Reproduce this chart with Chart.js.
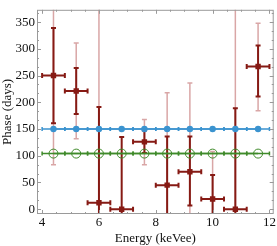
<!DOCTYPE html>
<html>
<head>
<meta charset="utf-8">
<script src="https://cdn.jsdelivr.net/npm/chart.js@4.4.1/dist/chart.umd.min.js"></script>
<style>
  html, body { margin: 0; padding: 0; background: #fff; }
  #wrap { width: 277px; height: 246px; }
</style>
</head>
<body>
<div id="wrap"><canvas id="phaseChart" width="277" height="246"></canvas></div>
<script>
// bin centres (keVee), half-width of each bin
const energy = [4.4, 5.2, 6.0, 6.8, 7.6, 8.4, 9.2, 10.0, 10.8, 11.6];
const binHalf = 0.4;

// measured phase and its two error bands (null = no bar)
const phase      = [250, 221, 12, 0, 126, 45, 70, 19, 0, 267];
const innerHi    = [339, 264, 191, 135, 147, 136, 136, 64, 189, 306];
const innerLo    = [161, 178, -50, -50, 105, -50, 7, -50, -50, 211];
const outerHi    = [420, 311, 420, null, 168, 218, 236, 108, 420, 348];
const outerLo    = [83, 132, -50, -50, 83, -50, -50, -50, -50, 184];

// model curves
const modelBlue  = [150, 150, 150, 150, 150, 150, 150, 150, 150, 150];
const modelGreen = [104, 104, 104, 104, 104, 104, 104, 104, 104, 104];

// axes
const xTicks = [4, 6, 8, 10, 12];
const yTicks = [0, 50, 100, 150, 200, 250, 300, 350];

const darkRed = "#861a14";
const lightRed = "#d9a6a6";
const blue = "#3b93cf";
const green = "#3f8a2a";

function pts(ys) {
  return energy.map(function (x, i) { return { x: x, y: ys[i] }; });
}

const errorBars = {
  id: "errorBars",
  beforeDatasetsDraw: function (chart) {
    const ctx = chart.ctx;
    const xs = chart.scales.x;
    const ys = chart.scales.y;
    const area = chart.chartArea;
    ctx.save();
    ctx.beginPath();
    ctx.rect(area.left, area.top, area.right - area.left, area.bottom - area.top);
    ctx.clip();

    function vbar(x, lo, hi, color, w) {
      const px = xs.getPixelForValue(x);
      const a = ys.getPixelForValue(lo);
      const b = ys.getPixelForValue(hi);
      ctx.strokeStyle = color;
      ctx.lineWidth = w;
      ctx.beginPath();
      ctx.moveTo(px, a);
      ctx.lineTo(px, b);
      ctx.moveTo(px - 2.5, a);
      ctx.lineTo(px + 2.5, a);
      ctx.moveTo(px - 2.5, b);
      ctx.lineTo(px + 2.5, b);
      ctx.stroke();
    }
    function hbar(x, y, color, w) {
      const a = xs.getPixelForValue(x - binHalf);
      const b = xs.getPixelForValue(x + binHalf);
      const py = ys.getPixelForValue(y);
      ctx.strokeStyle = color;
      ctx.lineWidth = w;
      ctx.beginPath();
      ctx.moveTo(a, py);
      ctx.lineTo(b, py);
      ctx.moveTo(a, py - 2.5);
      ctx.lineTo(a, py + 2.5);
      ctx.moveTo(b, py - 2.5);
      ctx.lineTo(b, py + 2.5);
      ctx.stroke();
    }

    energy.forEach(function (x, i) {
      if (outerHi[i] !== null) vbar(x, phase[i], outerHi[i], lightRed, 1.5);
      if (outerLo[i] !== null) vbar(x, outerLo[i], phase[i], lightRed, 1.5);
    });
    energy.forEach(function (x, i) {
      vbar(x, innerLo[i], innerHi[i], darkRed, 2);
      hbar(x, phase[i], darkRed, 2);
    });
    ctx.restore();
  },
  afterDatasetsDraw: function (chart) {
    const ctx = chart.ctx;
    const xs = chart.scales.x;
    const ys = chart.scales.y;
    ctx.save();
    energy.forEach(function (x, i) {
      [[modelGreen, green], [modelBlue, blue]].forEach(function (m) {
        const a = xs.getPixelForValue(x - binHalf);
        const b = xs.getPixelForValue(x + binHalf);
        const py = ys.getPixelForValue(m[0][i]);
        ctx.strokeStyle = m[1];
        ctx.lineWidth = 1.5;
        ctx.beginPath();
        ctx.moveTo(a, py);
        ctx.lineTo(b, py);
        ctx.moveTo(a, py - 2);
        ctx.lineTo(a, py + 2);
        ctx.moveTo(b, py - 2);
        ctx.lineTo(b, py + 2);
        ctx.stroke();
      });
    });
    ctx.restore();
  },
  afterDraw: function (chart) {
    // frame with inward ticks on all four sides
    const ctx = chart.ctx;
    const xs = chart.scales.x;
    const ys = chart.scales.y;
    const a = chart.chartArea;
    ctx.save();
    ctx.strokeStyle = "#9a9a9a";
    ctx.lineWidth = 1;
    ctx.strokeRect(a.left + 0.5, a.top + 0.5, a.right - a.left - 1, a.bottom - a.top - 1);
    ctx.beginPath();
    for (let v = 3.5; v <= 12.5; v += 0.5) {
      const px = Math.round(xs.getPixelForValue(v)) + 0.5;
      if (px < a.left || px > a.right) continue;
      const len = (v % 2 === 0) ? 4 : 2;
      ctx.moveTo(px, a.bottom);
      ctx.lineTo(px, a.bottom - len);
      ctx.moveTo(px, a.top);
      ctx.lineTo(px, a.top + len);
    }
    for (let k = 0; k <= 24; k++) {
      const v = k * 50 / 3;
      const py = Math.round(ys.getPixelForValue(v)) + 0.5;
      if (py < a.top || py > a.bottom) continue;
      const len = (k % 3 === 0) ? 4 : 2;
      ctx.moveTo(a.left, py);
      ctx.lineTo(a.left + len, py);
      ctx.moveTo(a.right, py);
      ctx.lineTo(a.right - len, py);
    }
    ctx.stroke();
    ctx.restore();
  }
};

const serif = { family: "'Liberation Serif', 'DejaVu Serif', serif", size: 13 };

const chart = new Chart(document.getElementById("phaseChart"), {
  type: "scatter",
  data: {
    datasets: [
      {
        label: "model A",
        data: pts(modelBlue),
        showLine: true,
        borderColor: blue,
        borderWidth: 1.5,
        backgroundColor: blue,
        pointStyle: "circle",
        pointRadius: 3.2,
        pointBorderWidth: 0,
      },
      {
        label: "model B",
        data: pts(modelGreen),
        showLine: true,
        borderColor: green,
        borderWidth: 1.5,
        backgroundColor: "rgba(0,0,0,0)",
        pointStyle: "circle",
        pointRadius: 4.5,
        pointBorderWidth: 1,
      },
      {
        label: "data",
        data: pts(phase),
        showLine: false,
        borderColor: darkRed,
        backgroundColor: darkRed,
        pointStyle: "rect",
        pointRadius: 3.8,
        pointBorderWidth: 0,
      },
    ],
  },
  options: {
    responsive: false,
    animation: false,
    layout: { autoPadding: false, padding: { top: 0, right: 3, left: 0, bottom: 0 } },
    plugins: { legend: { display: false }, tooltip: { enabled: false } },
    scales: {
      x: {
        type: "linear",
        min: 3.82,
        max: 12.15,
        grid: { display: false, drawTicks: false },
        border: { display: false },
        afterBuildTicks: function (scale) {
          scale.ticks = xTicks.map(function (v) { return { value: v }; });
        },
        afterFit: function (scale) {
          scale.height = 32;
        },
        ticks: { color: "#111", font: serif, padding: 1, maxRotation: 0 },
        title: { display: true, text: "Energy (keVee)", color: "#111", font: serif, padding: { top: 0, bottom: 0 } },
      },
      y: {
        type: "linear",
        min: -9,
        max: 373,
        grid: { display: false, drawTicks: false },
        border: { display: false },
        afterBuildTicks: function (scale) {
          scale.ticks = yTicks.map(function (v) { return { value: v }; });
        },
        afterFit: function (scale) {
          scale.width = 37;
        },
        ticks: { color: "#111", font: serif, padding: 2 },
        title: { display: true, text: "Phase (days)", color: "#111", font: serif, padding: { top: 0, bottom: 0 } },
      },
    },
  },
  plugins: [errorBars],
});
console.log(JSON.stringify(chart.chartArea));
</script>
</body>
</html>
